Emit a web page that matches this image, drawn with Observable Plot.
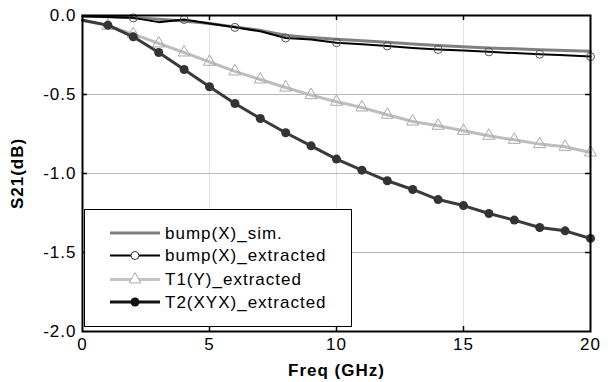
<!DOCTYPE html>
<html><head><meta charset="utf-8">
<script src="https://cdn.jsdelivr.net/npm/d3@7"></script>
<script src="https://cdn.jsdelivr.net/npm/@observablehq/plot@0.6"></script>
<style>
body{margin:0;background:#fff;}
#wrap{position:relative;width:616px;height:382px;}
#chart g[aria-label="x-axis label"] text, #chart g[aria-label="y-axis label"] text{font-weight:bold;}
#legend{position:absolute;left:84px;top:209px;width:268px;height:118px;border:1px solid #000;background:#fff;box-sizing:border-box;}
#legend svg{display:block;}
</style></head><body>
<div id="wrap"><div id="chart"></div><div id="legend"></div></div>
<script>
const freq    = [0,1,2,3,4,5,6,7,8,9,10,11,12,13,14,15,16,17,18,19,20];
const bumpSim = [-0.004,-0.008,-0.014,-0.024,-0.035,-0.05,-0.072,-0.094,-0.125,-0.14,-0.15,-0.16,-0.17,-0.18,-0.19,-0.198,-0.205,-0.211,-0.216,-0.221,-0.226];
const bumpExt = [-0.005,-0.01,-0.015,-0.042,-0.025,-0.05,-0.075,-0.1,-0.142,-0.152,-0.172,-0.182,-0.193,-0.205,-0.215,-0.222,-0.23,-0.238,-0.245,-0.252,-0.26];
const t1Ext   = [-0.03,-0.065,-0.118,-0.177,-0.234,-0.293,-0.354,-0.405,-0.456,-0.504,-0.546,-0.582,-0.628,-0.671,-0.698,-0.73,-0.761,-0.787,-0.814,-0.831,-0.867];
const t2Ext   = [-0.03,-0.061,-0.135,-0.234,-0.342,-0.451,-0.557,-0.652,-0.742,-0.825,-0.909,-0.979,-1.046,-1.101,-1.165,-1.203,-1.253,-1.295,-1.342,-1.363,-1.411];
const xTicks = [0,5,10,15,20];
const yTicks = [0,-0.5,-1,-1.5,-2];
const xGrid = [5,10,15];
const yGrid = [-0.5,-1,-1.5];
const seriesNames = ["bump(X)_sim.","bump(X)_extracted","T1(Y)_extracted","T2(XYX)_extracted"];

const rows = freq.map((f,i)=>({f, sim:bumpSim[i], ext:bumpExt[i], t1:t1Ext[i], t2:t2Ext[i]}));
const evenRows = rows.filter(d => d.f > 0 && d.f % 2 === 0);
const markRows = rows.filter(d => d.f > 0);

const W = 616, H = 382, mL = 82, mR = 26, mT = 15, mB = 51;
const innerW = W - mL - mR, innerH = H - mT - mB;

const chart = Plot.plot({
  width: W, height: H,
  marginLeft: mL, marginRight: mR, marginTop: mT, marginBottom: mB,
  style: {fontFamily: "'Liberation Sans', Arial, sans-serif", fontSize: "17px", letterSpacing: "1px", color: "#000", background: "#fff", overflow: "visible"},
  x: {domain: [0,20], ticks: xTicks, tickSize: 0, tickPadding: 6, label: "Freq (GHz)", labelAnchor: "center", labelOffset: 44, labelArrow: "none"},
  y: {domain: [-2,0], ticks: yTicks, tickSize: 0, tickPadding: 6, tickFormat: d => d.toFixed(1), label: "S21(dB)", labelAnchor: "center", labelOffset: 72, labelArrow: "none"},
  marks: [
    Plot.ruleX(xGrid, {stroke: "#e2e2e2", strokeWidth: 1}),
    Plot.ruleY(yGrid, {stroke: "#b8b8b8", strokeWidth: 1}),
    Plot.tickY(yGrid, {y: d => d, insetRight: innerW - 5, stroke: "#000", strokeWidth: 1.5}),
    Plot.tickY(yGrid, {y: d => d, insetLeft: innerW - 5, stroke: "#000", strokeWidth: 1.5}),
    Plot.tickX(xGrid, {x: d => d, insetBottom: innerH - 5, stroke: "#000", strokeWidth: 1.5}),
    Plot.tickX(xGrid, {x: d => d, insetTop: innerH - 5, stroke: "#000", strokeWidth: 1.5}),
    Plot.line(rows, {x: "f", y: "t1", stroke: "#bdbdbd", strokeWidth: 3}),
    Plot.dot(markRows, {x: "f", y: "t1", symbol: "triangle", r: 4.5, stroke: "#aaaaaa", strokeWidth: 1, fill: "none"}),
    Plot.line(rows, {x: "f", y: "t2", stroke: "#3a3a3a", strokeWidth: 3}),
    Plot.dot(markRows, {x: "f", y: "t2", r: 4.5, fill: "#333", stroke: "none"}),
    Plot.line(rows, {x: "f", y: "sim", stroke: "#808080", strokeWidth: 3}),
    Plot.line(rows, {x: "f", y: "ext", stroke: "#000", strokeWidth: 2}),
    Plot.dot(evenRows, {x: "f", y: "ext", r: 4, stroke: "#555", strokeWidth: 1, fill: "none"}),
    Plot.frame({stroke: "#000", strokeWidth: 2})
  ]
});
document.getElementById("chart").appendChild(chart);

// legend
const styles = [
  {stroke: "#808080", width: 3, sym: null},
  {stroke: "#000", width: 2, sym: "circleOpen"},
  {stroke: "#c4c4c4", width: 3, sym: "triangle"},
  {stroke: "#111", width: 3, sym: "dot"}
];
const lg = d3.select("#legend").append("svg").attr("width", 266).attr("height", 116)
  .style("font-family", "'Liberation Sans', Arial, sans-serif").style("font-size", "17px").style("letter-spacing", "1px");
const rowY = [23, 45.5, 69.5, 92];
seriesNames.forEach((name, i) => {
  const s = styles[i], y = rowY[i];
  const g = lg.append("g").attr("transform", `translate(0,${y})`);
  g.append("line").attr("x1", 25).attr("x2", 75).attr("y1", 0).attr("y2", 0).attr("stroke", s.stroke).attr("stroke-width", s.width);
  if (s.sym === "circleOpen") g.append("circle").attr("cx", 50).attr("cy", 0).attr("r", 4).attr("fill", "#fff").attr("stroke", "#333").attr("stroke-width", 1);
  if (s.sym === "dot") g.append("circle").attr("cx", 50).attr("cy", 0).attr("r", 4.5).attr("fill", "#111");
  if (s.sym === "triangle") g.append("path").attr("d", d3.symbol(d3.symbolTriangle, 60)()).attr("transform", "translate(50,0)").attr("fill", "#fff").attr("stroke", "#aaa").attr("stroke-width", 1);
  g.append("text").attr("x", 80).attr("y", 0).attr("dy", "0.35em").attr("fill", "#000").text(name);
});
</script>
</body></html>
